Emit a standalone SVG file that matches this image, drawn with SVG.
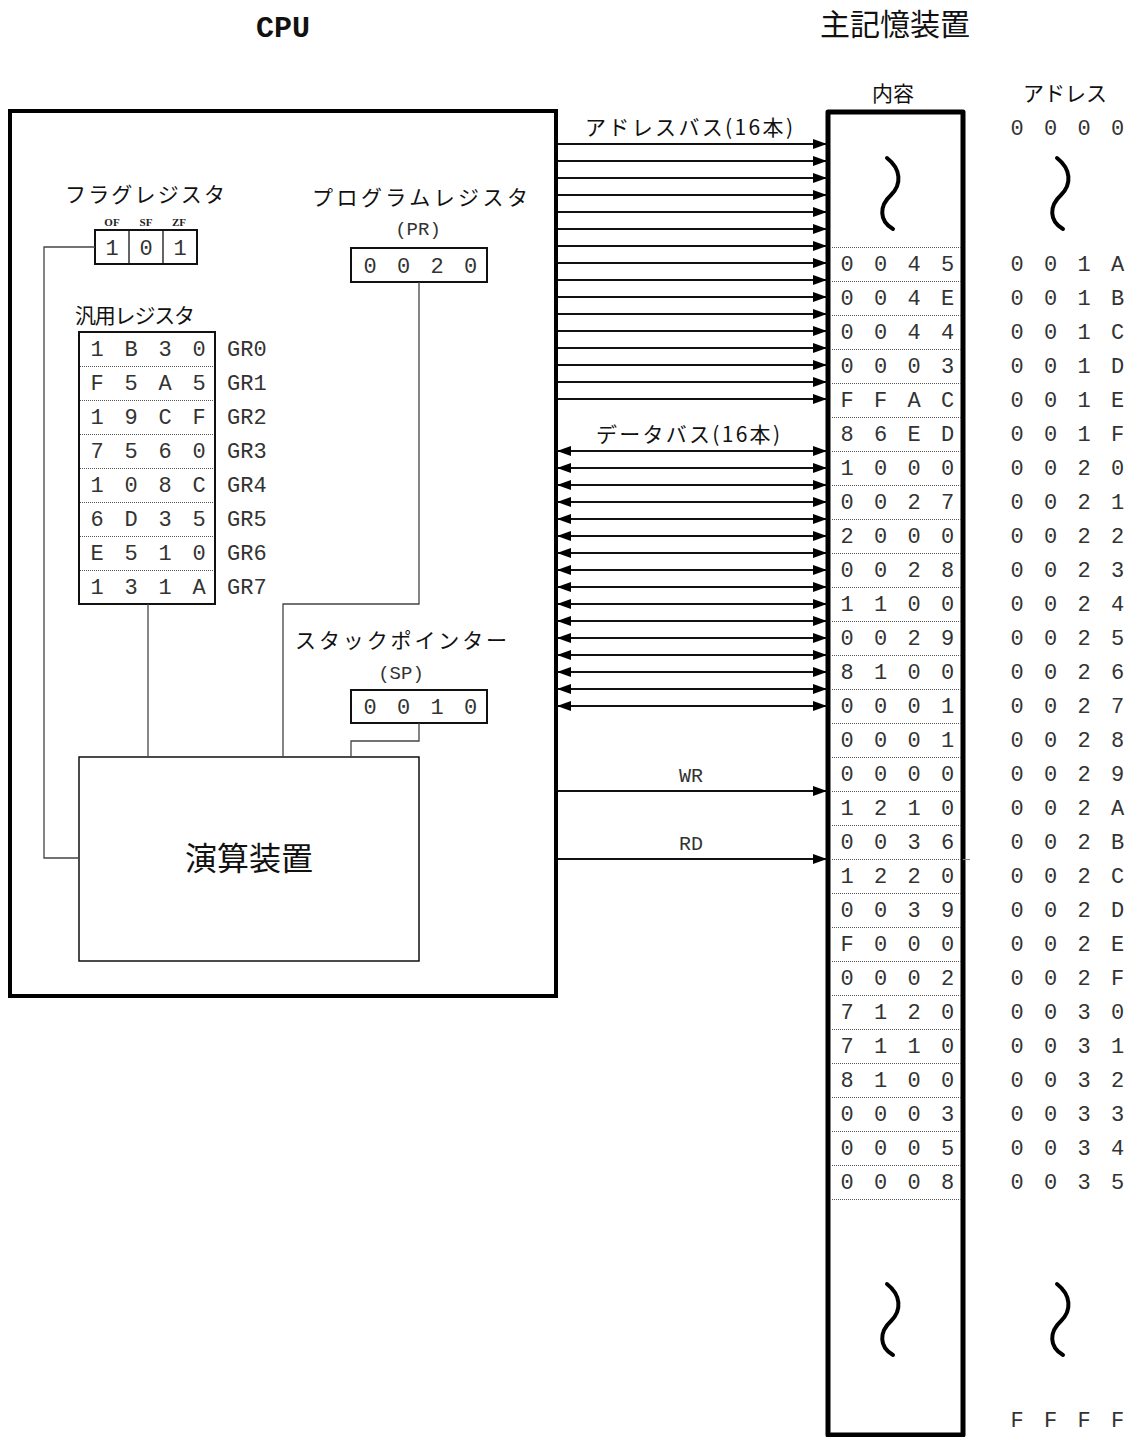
<svg xmlns="http://www.w3.org/2000/svg" width="1130" height="1437" viewBox="0 0 1130 1437">
<style>
.mono{font-family:"Liberation Mono","DejaVu Sans Mono",monospace;font-size:22px;fill:#333;text-anchor:middle}
.monol{font-family:"Liberation Mono","DejaVu Sans Mono",monospace;font-size:22px;fill:#333}
.jp{font-family:"Noto Sans CJK JP","Noto Sans",sans-serif;font-size:21px;fill:#111;text-anchor:middle}
.small{font-family:"Liberation Serif",serif;font-size:11px;font-weight:bold;fill:#222;text-anchor:middle}
.box{fill:none;stroke:#111;stroke-width:2}
.sep{stroke:#555;stroke-width:1;stroke-dasharray:1 1}
.wire{fill:none;stroke:#444;stroke-width:1.3}
.bus{stroke:#111;stroke-width:2}
.tilde{fill:none;stroke:#000;stroke-width:4;stroke-linecap:round}
</style>
<defs>
<marker id="ah" viewBox="0 0 14 10" refX="14" refY="5" markerWidth="14" markerHeight="10" markerUnits="userSpaceOnUse" orient="auto-start-reverse">
<path d="M0,0 L14,5 L0,10 z" fill="#000"/>
</marker>
</defs>

<!-- titles -->
<text x="283" y="37" style="font-family:'Liberation Mono',monospace;font-size:30px;font-weight:bold;fill:#111;text-anchor:middle">CPU</text>
<text x="895" y="35" style="font-family:'Noto Sans CJK JP',sans-serif;font-size:30px;fill:#111;text-anchor:middle">主記憶装置</text>

<!-- CPU box -->
<g id="cpu">
<rect x="10" y="111" width="546" height="885" fill="none" stroke="#000" stroke-width="4"/>
</g>

<!-- flag register -->
<g id="flag-register">
<text x="145" y="202" class="jp" textLength="160">フラグレジスタ</text>
<text x="112" y="226" class="small">OF</text>
<text x="146" y="226" class="small">SF</text>
<text x="179" y="226" class="small">ZF</text>
<rect x="95" y="230" width="102" height="34" class="box"/>
<line x1="129" y1="230" x2="129" y2="264" stroke="#111" stroke-width="1.3"/>
<line x1="163" y1="230" x2="163" y2="264" stroke="#111" stroke-width="1.3"/>
<text class="mono" x="112 146 180" y="255">101</text>
</g>

<!-- program register -->
<g id="program-register">
<text x="420" y="205" class="jp" textLength="216">プログラムレジスタ</text>
<text x="418" y="235" class="mono" style="font-size:19px">(PR)</text>
<rect x="351" y="248" width="136" height="34" class="box"/>
<text class="mono" x="370 403.5 437 470.5" y="273">0020</text>
</g>

<!-- general registers -->
<g id="general-registers">
<text x="75" y="323" class="jp" style="text-anchor:start" textLength="120">汎用レジスタ</text>
<rect x="79" y="332" width="136" height="272" class="box"/>
<line x1="80" y1="366.5" x2="214" y2="366.5" class="sep"/>
<line x1="80" y1="400.5" x2="214" y2="400.5" class="sep"/>
<line x1="80" y1="434.5" x2="214" y2="434.5" class="sep"/>
<line x1="80" y1="468.5" x2="214" y2="468.5" class="sep"/>
<line x1="80" y1="502.5" x2="214" y2="502.5" class="sep"/>
<line x1="80" y1="536.5" x2="214" y2="536.5" class="sep"/>
<line x1="80" y1="570.5" x2="214" y2="570.5" class="sep"/>
<text class="mono" x="97 131 165 199" y="356">1B30</text>
<text class="mono" x="97 131 165 199" y="390">F5A5</text>
<text class="mono" x="97 131 165 199" y="424">19CF</text>
<text class="mono" x="97 131 165 199" y="458">7560</text>
<text class="mono" x="97 131 165 199" y="492">108C</text>
<text class="mono" x="97 131 165 199" y="526">6D35</text>
<text class="mono" x="97 131 165 199" y="560">E510</text>
<text class="mono" x="97 131 165 199" y="594">131A</text>
<text class="monol" x="227" y="356">GR0</text>
<text class="monol" x="227" y="390">GR1</text>
<text class="monol" x="227" y="424">GR2</text>
<text class="monol" x="227" y="458">GR3</text>
<text class="monol" x="227" y="492">GR4</text>
<text class="monol" x="227" y="526">GR5</text>
<text class="monol" x="227" y="560">GR6</text>
<text class="monol" x="227" y="594">GR7</text>
</g>

<!-- stack pointer -->
<g id="stack-pointer">
<text x="401" y="648" class="jp" textLength="212">スタックポインター</text>
<text x="401" y="679" class="mono" style="font-size:19px">(SP)</text>
<rect x="351" y="690" width="136" height="33" class="box"/>
<text class="mono" x="370 403.5 437 470.5" y="714">0010</text>
</g>

<!-- ALU -->
<g id="alu">
<rect x="79" y="757" width="340" height="204" fill="none" stroke="#111" stroke-width="1.5"/>
<text x="249" y="870" style="font-family:'Noto Sans CJK JP',sans-serif;font-size:32px;fill:#111;text-anchor:middle">演算装置</text>
</g>

<!-- memory -->
<g id="memory">
<text x="893" y="101" class="jp">内容</text>
<text x="1065" y="101" class="jp">アドレス</text>
<rect x="828" y="112" width="135" height="1323" fill="none" stroke="#000" stroke-width="5" stroke-linejoin="round"/>
<path class="tilde" d="M887,158 C901,169 902,184 891,195 C879,206 879,221 893,229"/>
<path class="tilde" d="M1057,158 C1071,169 1072,184 1061,195 C1049,206 1049,221 1063,229"/>
<path class="tilde" d="M887,1284 C901,1295 902,1310 891,1321 C879,1332 879,1347 893,1355"/>
<path class="tilde" d="M1057,1284 C1071,1295 1072,1310 1061,1321 C1049,1332 1049,1347 1063,1355"/>
<line x1="832" y1="247.5" x2="961" y2="247.5" class="sep"/>
<line x1="832" y1="281.5" x2="961" y2="281.5" class="sep"/>
<line x1="832" y1="315.5" x2="961" y2="315.5" class="sep"/>
<line x1="832" y1="349.5" x2="961" y2="349.5" class="sep"/>
<line x1="832" y1="383.5" x2="961" y2="383.5" class="sep"/>
<line x1="832" y1="417.5" x2="961" y2="417.5" class="sep"/>
<line x1="832" y1="451.5" x2="961" y2="451.5" class="sep"/>
<line x1="832" y1="485.5" x2="961" y2="485.5" class="sep"/>
<line x1="832" y1="519.5" x2="961" y2="519.5" class="sep"/>
<line x1="832" y1="553.5" x2="961" y2="553.5" class="sep"/>
<line x1="832" y1="587.5" x2="961" y2="587.5" class="sep"/>
<line x1="832" y1="621.5" x2="961" y2="621.5" class="sep"/>
<line x1="832" y1="655.5" x2="961" y2="655.5" class="sep"/>
<line x1="832" y1="689.5" x2="961" y2="689.5" class="sep"/>
<line x1="832" y1="723.5" x2="961" y2="723.5" class="sep"/>
<line x1="832" y1="757.5" x2="961" y2="757.5" class="sep"/>
<line x1="832" y1="791.5" x2="961" y2="791.5" class="sep"/>
<line x1="832" y1="825.5" x2="961" y2="825.5" class="sep"/>
<line x1="832" y1="859.5" x2="961" y2="859.5" class="sep"/>
<line x1="963" y1="859.5" x2="970" y2="859.5" stroke="#888" stroke-width="1"/>
<line x1="832" y1="893.5" x2="961" y2="893.5" class="sep"/>
<line x1="832" y1="927.5" x2="961" y2="927.5" class="sep"/>
<line x1="832" y1="961.5" x2="961" y2="961.5" class="sep"/>
<line x1="832" y1="995.5" x2="961" y2="995.5" class="sep"/>
<line x1="832" y1="1029.5" x2="961" y2="1029.5" class="sep"/>
<line x1="832" y1="1063.5" x2="961" y2="1063.5" class="sep"/>
<line x1="832" y1="1097.5" x2="961" y2="1097.5" class="sep"/>
<line x1="832" y1="1131.5" x2="961" y2="1131.5" class="sep"/>
<line x1="832" y1="1165.5" x2="961" y2="1165.5" class="sep"/>
<line x1="832" y1="1199.5" x2="961" y2="1199.5" class="sep"/>
<text class="mono" x="1017 1050.5 1084 1117.5" y="135">0000</text>
<text class="mono" x="1017 1050.5 1084 1117.5" y="1427">FFFF</text>
<text class="mono" x="847 880.5 914 947.5" y="271">0045</text><text class="mono" x="1017 1050.5 1084 1117.5" y="271">001A</text>
<text class="mono" x="847 880.5 914 947.5" y="305">004E</text><text class="mono" x="1017 1050.5 1084 1117.5" y="305">001B</text>
<text class="mono" x="847 880.5 914 947.5" y="339">0044</text><text class="mono" x="1017 1050.5 1084 1117.5" y="339">001C</text>
<text class="mono" x="847 880.5 914 947.5" y="373">0003</text><text class="mono" x="1017 1050.5 1084 1117.5" y="373">001D</text>
<text class="mono" x="847 880.5 914 947.5" y="407">FFAC</text><text class="mono" x="1017 1050.5 1084 1117.5" y="407">001E</text>
<text class="mono" x="847 880.5 914 947.5" y="441">86ED</text><text class="mono" x="1017 1050.5 1084 1117.5" y="441">001F</text>
<text class="mono" x="847 880.5 914 947.5" y="475">1000</text><text class="mono" x="1017 1050.5 1084 1117.5" y="475">0020</text>
<text class="mono" x="847 880.5 914 947.5" y="509">0027</text><text class="mono" x="1017 1050.5 1084 1117.5" y="509">0021</text>
<text class="mono" x="847 880.5 914 947.5" y="543">2000</text><text class="mono" x="1017 1050.5 1084 1117.5" y="543">0022</text>
<text class="mono" x="847 880.5 914 947.5" y="577">0028</text><text class="mono" x="1017 1050.5 1084 1117.5" y="577">0023</text>
<text class="mono" x="847 880.5 914 947.5" y="611">1100</text><text class="mono" x="1017 1050.5 1084 1117.5" y="611">0024</text>
<text class="mono" x="847 880.5 914 947.5" y="645">0029</text><text class="mono" x="1017 1050.5 1084 1117.5" y="645">0025</text>
<text class="mono" x="847 880.5 914 947.5" y="679">8100</text><text class="mono" x="1017 1050.5 1084 1117.5" y="679">0026</text>
<text class="mono" x="847 880.5 914 947.5" y="713">0001</text><text class="mono" x="1017 1050.5 1084 1117.5" y="713">0027</text>
<text class="mono" x="847 880.5 914 947.5" y="747">0001</text><text class="mono" x="1017 1050.5 1084 1117.5" y="747">0028</text>
<text class="mono" x="847 880.5 914 947.5" y="781">0000</text><text class="mono" x="1017 1050.5 1084 1117.5" y="781">0029</text>
<text class="mono" x="847 880.5 914 947.5" y="815">1210</text><text class="mono" x="1017 1050.5 1084 1117.5" y="815">002A</text>
<text class="mono" x="847 880.5 914 947.5" y="849">0036</text><text class="mono" x="1017 1050.5 1084 1117.5" y="849">002B</text>
<text class="mono" x="847 880.5 914 947.5" y="883">1220</text><text class="mono" x="1017 1050.5 1084 1117.5" y="883">002C</text>
<text class="mono" x="847 880.5 914 947.5" y="917">0039</text><text class="mono" x="1017 1050.5 1084 1117.5" y="917">002D</text>
<text class="mono" x="847 880.5 914 947.5" y="951">F000</text><text class="mono" x="1017 1050.5 1084 1117.5" y="951">002E</text>
<text class="mono" x="847 880.5 914 947.5" y="985">0002</text><text class="mono" x="1017 1050.5 1084 1117.5" y="985">002F</text>
<text class="mono" x="847 880.5 914 947.5" y="1019">7120</text><text class="mono" x="1017 1050.5 1084 1117.5" y="1019">0030</text>
<text class="mono" x="847 880.5 914 947.5" y="1053">7110</text><text class="mono" x="1017 1050.5 1084 1117.5" y="1053">0031</text>
<text class="mono" x="847 880.5 914 947.5" y="1087">8100</text><text class="mono" x="1017 1050.5 1084 1117.5" y="1087">0032</text>
<text class="mono" x="847 880.5 914 947.5" y="1121">0003</text><text class="mono" x="1017 1050.5 1084 1117.5" y="1121">0033</text>
<text class="mono" x="847 880.5 914 947.5" y="1155">0005</text><text class="mono" x="1017 1050.5 1084 1117.5" y="1155">0034</text>
<text class="mono" x="847 880.5 914 947.5" y="1189">0008</text><text class="mono" x="1017 1050.5 1084 1117.5" y="1189">0035</text>
</g>

<!-- connectors -->
<g id="connectors">
<polyline class="wire" points="95,247 44,247 44,858 79,858"/>
<line class="wire" x1="148" y1="604" x2="148" y2="757"/>
<polyline class="wire" points="419,282 419,604 283,604 283,757"/>
<polyline class="wire" points="419,723 419,741 351,741 351,757"/>

<text x="689" y="135" class="jp" textLength="208">アドレスバス(16本)</text>
<g class="bus" marker-end="url(#ah)">
<line x1="558" y1="144" x2="827" y2="144"/>
<line x1="558" y1="161" x2="827" y2="161"/>
<line x1="558" y1="178" x2="827" y2="178"/>
<line x1="558" y1="195" x2="827" y2="195"/>
<line x1="558" y1="212" x2="827" y2="212"/>
<line x1="558" y1="229" x2="827" y2="229"/>
<line x1="558" y1="246" x2="827" y2="246"/>
<line x1="558" y1="263" x2="827" y2="263"/>
<line x1="558" y1="280" x2="827" y2="280"/>
<line x1="558" y1="297" x2="827" y2="297"/>
<line x1="558" y1="314" x2="827" y2="314"/>
<line x1="558" y1="331" x2="827" y2="331"/>
<line x1="558" y1="348" x2="827" y2="348"/>
<line x1="558" y1="365" x2="827" y2="365"/>
<line x1="558" y1="382" x2="827" y2="382"/>
<line x1="558" y1="399" x2="827" y2="399"/>
</g>

<text x="688" y="442" class="jp" textLength="184">データバス(16本)</text>
<g class="bus" marker-start="url(#ah)" marker-end="url(#ah)">
<line x1="557" y1="451" x2="827" y2="451"/>
<line x1="557" y1="468" x2="827" y2="468"/>
<line x1="557" y1="485" x2="827" y2="485"/>
<line x1="557" y1="502" x2="827" y2="502"/>
<line x1="557" y1="519" x2="827" y2="519"/>
<line x1="557" y1="536" x2="827" y2="536"/>
<line x1="557" y1="553" x2="827" y2="553"/>
<line x1="557" y1="570" x2="827" y2="570"/>
<line x1="557" y1="587" x2="827" y2="587"/>
<line x1="557" y1="604" x2="827" y2="604"/>
<line x1="557" y1="621" x2="827" y2="621"/>
<line x1="557" y1="638" x2="827" y2="638"/>
<line x1="557" y1="655" x2="827" y2="655"/>
<line x1="557" y1="672" x2="827" y2="672"/>
<line x1="557" y1="689" x2="827" y2="689"/>
<line x1="557" y1="706" x2="827" y2="706"/>
</g>

<text x="691" y="782" class="mono" style="font-size:20px">WR</text>
<line class="bus" x1="558" y1="791" x2="827" y2="791" marker-end="url(#ah)"/>
<text x="691" y="850" class="mono" style="font-size:20px">RD</text>
<line class="bus" x1="558" y1="859" x2="827" y2="859" marker-end="url(#ah)"/>
</g>
</svg>
